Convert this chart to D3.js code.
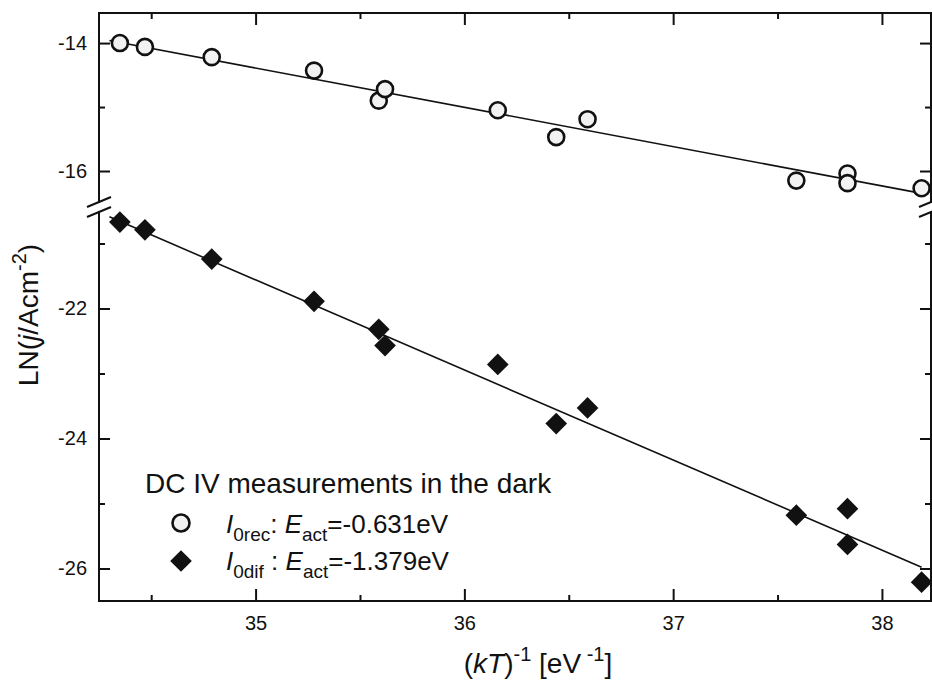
<!DOCTYPE html>
<html>
<head>
<meta charset="utf-8">
<script src="https://cdn.jsdelivr.net/npm/d3@7"></script>
<style>
body { margin: 0; background: #fff; }
text { font-family: Arial, "Liberation Sans", sans-serif; fill: #111; }
</style>
</head>
<body>
<svg width="932" height="691"></svg>
<script>
// (kT)^-1 values, same for both series
var invKT = [34.35, 34.47, 34.79, 35.28, 35.59, 35.62, 36.16, 36.44, 36.59, 37.59, 37.835, 37.835, 38.19];
var lnRec = [-14.00, -14.06, -14.22, -14.43, -14.90, -14.72, -15.05, -15.47, -15.19, -16.15, -16.04, -16.19, -16.27];
var lnDif = [-20.67, -20.79, -21.24, -21.89, -22.32, -22.57, -22.86, -23.77, -23.53, -25.18, -25.08, -25.63, -26.21];
// linear fit end points
var fitX = [34.30, 38.19];
var fitRec = [-13.96, -16.35];
var fitDif = [-20.59, -25.98];

var xTicks = [35, 36, 37, 38];
var xMinor = [34.5, 35.5, 36.5, 37.5];
var yTicksTop = [-14, -16], yMinorTop = [-15];
var yTicksBot = [-22, -24, -26], yMinorBot = [-21, -23, -25];

var svg = d3.select("svg");
var mLeft = 99, mRight = 931, mTop = 13, mBottom = 601;

var x = d3.scaleLinear().domain([34.25, 38.235]).range([mLeft, mRight]);
var yTop = d3.scaleLinear().domain([-13.53, -16.5]).range([mTop, 203]);
var yBot = d3.scaleLinear().domain([-20.5, -26.5]).range([211, mBottom]);

var g = svg.append("g");

function clean(sel) {
  sel.select(".domain").remove();
  sel.selectAll("line").attr("stroke", "#111").attr("stroke-width", 2);
  sel.selectAll("text").attr("font-size", 20).attr("font-family", "Arial, 'Liberation Sans', sans-serif").attr("fill", "#111");
}
var fmt = function (d) { return String(d); };

// x axes (bottom with labels, top ticks only)
g.append("g").attr("transform", "translate(0," + mBottom + ")")
  .call(d3.axisBottom(x).tickValues(xTicks).tickSize(-12).tickPadding(15).tickFormat(fmt))
  .call(clean);
g.append("g").attr("transform", "translate(0," + mBottom + ")")
  .call(d3.axisBottom(x).tickValues(xMinor).tickSize(-6).tickFormat(""))
  .call(clean);
g.append("g").attr("transform", "translate(0," + mTop + ")")
  .call(d3.axisTop(x).tickValues(xTicks).tickSize(-12).tickFormat(""))
  .call(clean);
g.append("g").attr("transform", "translate(0," + mTop + ")")
  .call(d3.axisTop(x).tickValues(xMinor).tickSize(-6).tickFormat(""))
  .call(clean);

// y axes, both segments, left with labels, right ticks only
[[yTop, yTicksTop, yMinorTop], [yBot, yTicksBot, yMinorBot]].forEach(function (s) {
  g.append("g").attr("transform", "translate(" + mLeft + ",0)")
    .call(d3.axisLeft(s[0]).tickValues(s[1]).tickSize(-11).tickPadding(12).tickFormat(fmt))
    .call(clean);
  g.append("g").attr("transform", "translate(" + mLeft + ",0)")
    .call(d3.axisLeft(s[0]).tickValues(s[2]).tickSize(-6).tickFormat(""))
    .call(clean);
  g.append("g").attr("transform", "translate(" + mRight + ",0)")
    .call(d3.axisRight(s[0]).tickValues(s[1]).tickSize(-11).tickFormat(""))
    .call(clean);
  g.append("g").attr("transform", "translate(" + mRight + ",0)")
    .call(d3.axisRight(s[0]).tickValues(s[2]).tickSize(-6).tickFormat(""))
    .call(clean);
});

// frame lines with the gap at the break
var frame = g.append("g").attr("stroke", "#111").attr("stroke-width", 2).attr("fill", "none");
frame.append("line").attr("x1", mLeft - 1).attr("x2", mRight + 1).attr("y1", mTop).attr("y2", mTop);
frame.append("line").attr("x1", mLeft - 1).attr("x2", mRight + 1).attr("y1", mBottom).attr("y2", mBottom);
[mLeft, mRight].forEach(function (ax) {
  frame.append("line").attr("x1", ax).attr("x2", ax).attr("y1", mTop).attr("y2", yTop.range()[1]);
  frame.append("line").attr("x1", ax).attr("x2", ax).attr("y1", yBot.range()[0]).attr("y2", mBottom);
  [yTop.range()[1] - 1, yBot.range()[0] + 1].forEach(function (yy) {
    frame.append("line").attr("x1", ax - 12).attr("y1", yy + 5).attr("x2", ax + 12).attr("y2", yy - 5);
  });
});

// fit lines
var plot = svg.append("g");
plot.append("line")
  .attr("x1", x(fitX[0])).attr("y1", yTop(fitRec[0]))
  .attr("x2", x(fitX[1])).attr("y2", yTop(fitRec[1]))
  .attr("stroke", "#111").attr("stroke-width", 1.6);
plot.append("line")
  .attr("x1", x(fitX[0])).attr("y1", yBot(fitDif[0]))
  .attr("x2", x(fitX[1])).attr("y2", yBot(fitDif[1]))
  .attr("stroke", "#111").attr("stroke-width", 1.6);

var diamond = d3.symbol().type(d3.symbolSquare).size(235);

plot.selectAll(".rec").data(invKT).enter().append("circle")
  .attr("class", "rec")
  .attr("cx", function (d) { return x(d); })
  .attr("cy", function (d, i) { return yTop(lnRec[i]); })
  .attr("r", 8)
  .attr("fill", "#f2f2f2").attr("stroke", "#111").attr("stroke-width", 2.6);

plot.selectAll(".dif").data(invKT).enter().append("path")
  .attr("class", "dif")
  .attr("d", diamond)
  .attr("transform", function (d, i) { return "translate(" + x(d) + "," + yBot(lnDif[i]) + ") rotate(45)"; })
  .attr("fill", "#111");

// legend
var lg = svg.append("g");
lg.append("text").attr("x", 145).attr("y", 493).attr("font-size", 28).text("DC IV measurements in the dark");
lg.append("circle").attr("cx", 181).attr("cy", 523).attr("r", 8.5)
  .attr("fill", "#f2f2f2").attr("stroke", "#111").attr("stroke-width", 2.6);
lg.append("path").attr("d", diamond).attr("transform", "translate(181,561) rotate(45)").attr("fill", "#111");

function entry(yb, sub, sep, val) {
  var t = lg.append("text").attr("x", 226).attr("y", yb).attr("font-size", 26);
  t.append("tspan").attr("font-style", "italic").text("I");
  t.append("tspan").attr("font-size", 19).attr("dy", 8).text(sub);
  t.append("tspan").attr("dy", -8).text(sep);
  t.append("tspan").attr("font-style", "italic").text("E");
  t.append("tspan").attr("font-size", 19).attr("dy", 8).text("act");
  t.append("tspan").attr("dy", -8).text("=" + val);
}
entry(533, "0rec", ": ", "-0.631eV");
entry(570, "0dif", " : ", "-1.379eV");

// axis titles
var xt = svg.append("text").attr("x", 538).attr("y", 673).attr("text-anchor", "middle").attr("font-size", 28);
xt.append("tspan").text("(");
xt.append("tspan").attr("font-style", "italic").text("kT");
xt.append("tspan").text(")");
xt.append("tspan").attr("font-size", 20).attr("dy", -12).text("-1");
xt.append("tspan").attr("dy", 12).text(" [eV");
xt.append("tspan").attr("font-size", 20).attr("dy", -12).text(" -1");
xt.append("tspan").attr("dy", 12).text("]");

var yt = svg.append("text").attr("transform", "translate(38,315) rotate(-90)").attr("text-anchor", "middle").attr("font-size", 28);
yt.append("tspan").text("LN(");
yt.append("tspan").attr("font-style", "italic").text("j");
yt.append("tspan").text("/Acm");
yt.append("tspan").attr("font-size", 20).attr("dy", -12).text("-2");
yt.append("tspan").attr("dy", 12).text(")");
</script>
</body>
</html>
